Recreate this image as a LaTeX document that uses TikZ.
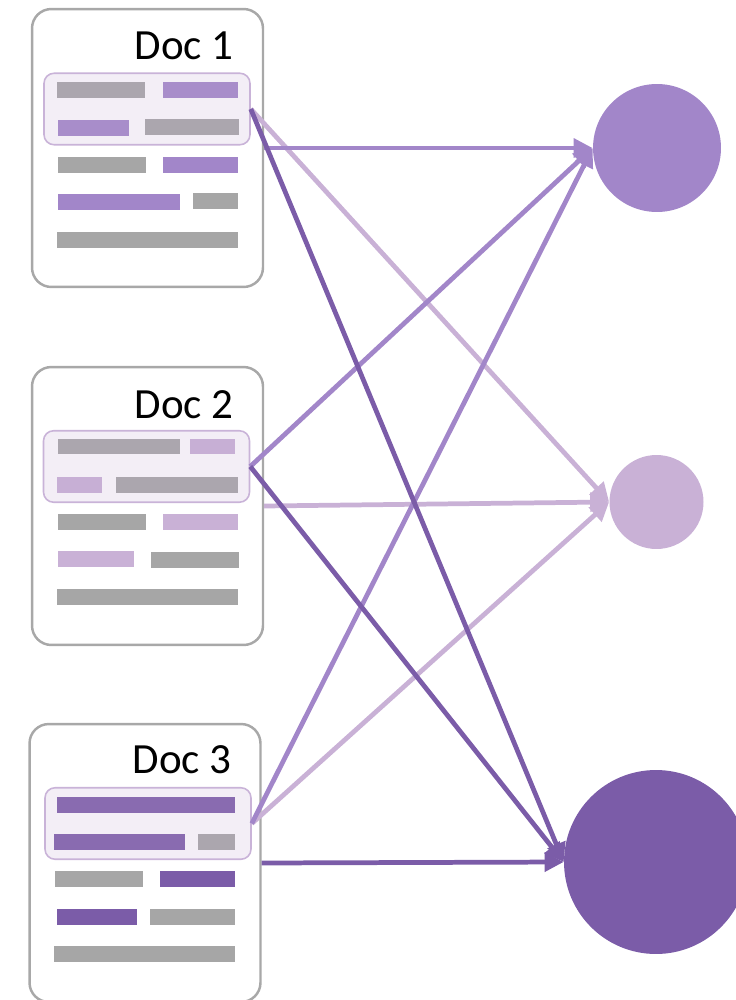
\documentclass[tikz,border=0pt]{standalone}
\usepackage{fontspec}
\setmainfont{Carlito}
\usetikzlibrary{arrows.meta,positioning}
\definecolor{medpurple}{HTML}{A286C9}
\definecolor{lightpurple}{HTML}{C9B1D6}
\definecolor{darkpurple}{HTML}{7B5CA8}
\definecolor{bargrey}{HTML}{A6A6A6}
\definecolor{docgrey}{HTML}{A8A8A8}
\definecolor{hlfill}{HTML}{C3AAD2}
\definecolor{hlline}{HTML}{C9B3D8}
\tikzset{
    docbox/.style={
    rectangle,rounded corners=11pt,draw=docgrey,line width=1.4pt,fill=white,
    minimum width=4.62cm,minimum height=5.56cm,inner sep=0pt
    },
    highlight/.style={
    rectangle,rounded corners=5.7pt,draw=hlline,line width=0.9pt,
    fill=hlfill,fill opacity=0.2,draw opacity=1,
    minimum width=4.12cm,minimum height=1.43cm,inner sep=0pt
    },
    doclabel/.style={
    anchor=base east,inner sep=0pt,font=\fontsize{24.5}{29}\selectfont
    },
    score/.style={
    circle,inner sep=0pt
    },
    link/.style={
    line width=2.7pt,-{Triangle[length=10.8pt,width=10.5pt]}
    },
}
\begin{document}
\begin{tikzpicture}[x=0.02cm,y=-0.02cm]
   \useasboundingbox (0,0) rectangle (736,1000);

   % documents
   \node[docbox] (doc1) at (147.5,148) {};
   \node[docbox] (doc2) at (147.5,506) {};
   \node[docbox] (doc3) at (145,863) {};
   \node[doclabel] (lab1) at (234,60) {Doc 1};
   \node[doclabel] (lab2) at (234,418) {Doc 2};
   \node[doclabel] (lab3) at (232,773) {Doc 3};

   % doc 1 lines
   \fill[bargrey] (57,82) rectangle (145,98);
   \fill[medpurple] (163,82) rectangle (238,98);
   \fill[medpurple] (58,120) rectangle (129,136);
   \fill[bargrey] (145,119) rectangle (239,135);
   \fill[bargrey] (58,157) rectangle (146,173);
   \fill[medpurple] (163,157) rectangle (238,173);
   \fill[medpurple] (58,194) rectangle (180,210);
   \fill[bargrey] (193,193) rectangle (238,209);
   \fill[bargrey] (57,232) rectangle (238,248);

   % doc 2 lines
   \fill[bargrey] (58,439) rectangle (180,454);
   \fill[lightpurple] (190,439) rectangle (235,454);
   \fill[lightpurple] (57,477) rectangle (102,493);
   \fill[bargrey] (116,477) rectangle (238,493);
   \fill[bargrey] (58,514) rectangle (146,530);
   \fill[lightpurple] (163,514) rectangle (238,530);
   \fill[lightpurple] (58,551) rectangle (134,567);
   \fill[bargrey] (151,552) rectangle (239,568);
   \fill[bargrey] (57,589) rectangle (238,605);

   % doc 3 lines
   \fill[darkpurple] (57,797) rectangle (235,813);
   \fill[darkpurple] (54,834) rectangle (185,850);
   \fill[bargrey] (198,834) rectangle (235,850);
   \fill[bargrey] (55,871) rectangle (143,887);
   \fill[darkpurple] (160,871) rectangle (235,887);
   \fill[darkpurple] (57,909) rectangle (137,925);
   \fill[bargrey] (150,909) rectangle (235,925);
   \fill[bargrey] (54,946) rectangle (235,962);

   % highlighted passages
   \node[highlight] (hl1) at (147,109) {};
   \node[highlight] (hl2) at (146.5,466.5) {};
   \node[highlight] (hl3) at (148,823.5) {};

   % scores
   \node[score,fill=medpurple,minimum size=2.56cm] (c1) at (657,148) {};
   \node[score,fill=lightpurple,minimum size=1.88cm] (c2) at (656.5,502) {};
   \node[score,fill=darkpurple,minimum size=3.68cm] (c3) at (656,862) {};

   \draw[link,lightpurple] (hl1.east) -- (c2.west);
   \draw[link,lightpurple] (doc2.east) -- (c2.west);
   \draw[link,lightpurple] (hl3.east) -- (c2.west);
   \draw[link,medpurple] (doc1.east) -- (c1.west);
   \draw[link,medpurple] (hl2.east) -- (c1.west);
   \draw[link,medpurple] (hl3.east) -- (c1.west);
   \draw[link,darkpurple] (hl1.east) -- (c3.west);
   \draw[link,darkpurple] (hl2.east) -- (c3.west);
   \draw[link,darkpurple] (doc3.east) -- (c3.west);
\end{tikzpicture}
\end{document}
